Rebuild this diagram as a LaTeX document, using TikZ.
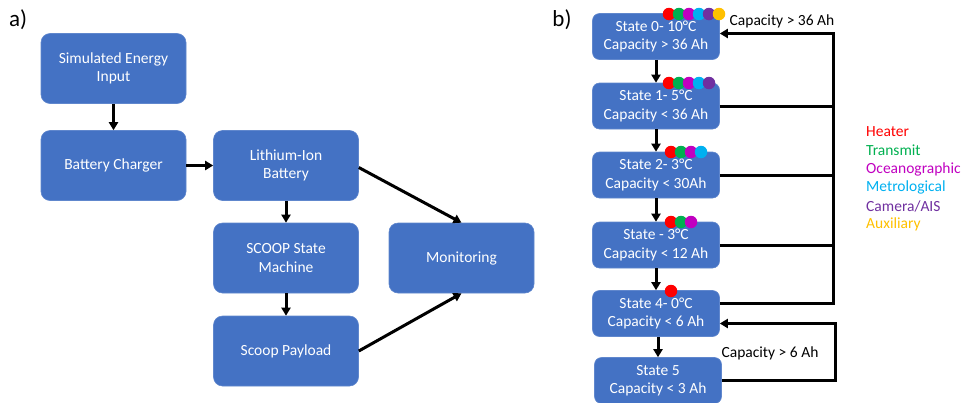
\documentclass[tikz,border=0pt]{standalone}
\usepackage{fontspec}
\setmainfont{Carlito}
\usetikzlibrary{arrows.meta}
\definecolor{boxblue}{HTML}{4472C4}
\definecolor{heater}{HTML}{FF0000}
\definecolor{transmit}{HTML}{00B050}
\definecolor{ocean}{HTML}{C000C0}
\definecolor{metro}{HTML}{00B0F0}
\definecolor{camera}{HTML}{7030A0}
\definecolor{aux}{HTML}{FFC000}
\begin{document}
\begin{tikzpicture}[x=1pt, y=-1pt,
	block/.style={rectangle, rounded corners=9pt, fill=boxblue, draw=boxblue!85!white, line width=0.6pt, text=white, align=center, font=\fontsize{15.5}{18.5}\selectfont, minimum width=145pt, minimum height=70pt, inner sep=0pt},
	statebox/.style={block, minimum width=127pt, minimum height=46pt, rounded corners=7pt},
	dot/.style={circle, inner sep=0pt, minimum size=12.5pt},
	link/.style={line width=3pt, -{Triangle[length=8pt,width=9pt]}},
	wire/.style={line width=3pt},
	plain/.style={font=\fontsize{15.5}{18.5}\selectfont},
	legend/.style={plain, anchor=west, inner sep=0pt}]
	\useasboundingbox (0,0) rectangle (963,402);
	% a) power chain
	\node[font=\fontsize{23}{27}\selectfont] (la) at (18,20) {a)};
	\node[block] (sim) at (113.5,68.5) {Simulated Energy\\Input};
	\node[block] (charger) at (113.5,165.5) {Battery Charger};
	\node[block] (liion) at (286,165.5) {Lithium-Ion\\Battery};
	\node[block] (scoop) at (286,258) {SCOOP State\\Machine};
	\node[block] (payload) at (286,351) {Scoop Payload};
	\node[block] (mon) at (461.5,258) {Monitoring};
	\draw[link] (sim) -- (charger);
	\draw[link] (charger) -- (liion);
	\draw[link] (liion) -- (scoop);
	\draw[link] (scoop) -- (payload);
	\draw[link] ([yshift=-2pt]liion.east) -- (mon.north);
	\draw[link] (payload.east) -- (mon.south);
	% b) state machine
	\node[font=\fontsize{23}{27}\selectfont] (lb) at (562,20) {b)};
	\node[statebox] (s0) at (656,36.5) {State 0- 10°C\\Capacity > 36 Ah};
	\node[statebox] (s1) at (656,106) {State 1- 5°C\\Capacity < 36 Ah};
	\node[statebox] (s2) at (656,175) {State 2- 3°C\\Capacity < 30Ah};
	\node[statebox] (s3) at (656,245) {State - 3°C\\Capacity < 12 Ah};
	\node[statebox] (s4) at (656,313.5) {State 4- 0°C\\Capacity < 6 Ah};
	\node[statebox] (s5) at (658,380.5) {State 5\\Capacity < 3 Ah};
	\draw[link] (s0) -- (s1);
	\draw[link] (s1) -- (s2);
	\draw[link] (s2) -- (s3);
	\draw[link] (s3) -- (s4);
	\draw[link] (s4.south -| s5.north) -- (s5);
	% loads per state
	\foreach \c [count=\i] in {heater,transmit,ocean,metro,camera,aux}
		\node[dot, fill=\c] (da\i) at (659+10*\i,14) {};
	\foreach \c [count=\i] in {heater,transmit,ocean,metro,camera}
		\node[dot, fill=\c] (db\i) at (659+10*\i,83) {};
	\foreach \c [count=\i] in {heater,transmit,ocean,metro}
		\node[dot, fill=\c] (dc\i) at (661+10*\i,152) {};
	\foreach \c [count=\i] in {heater,transmit,ocean}
		\node[dot, fill=\c] (dd\i) at (661+10*\i,222) {};
	\node[dot, fill=heater] (de1) at (671,291) {};
	% return paths
	\coordinate (ret) at (833,33.5);
	\draw[link] ([yshift=10pt]s4.east) -| (ret) -- ([yshift=3pt]s0.east);
	\draw[wire] (s1.east) -- (s1.east -| ret);
	\draw[wire] (s2.east) -- (s2.east -| ret);
	\draw[wire] (s3.east) -- (s3.east -| ret);
	\node[plain] (c36) at (782,21) {Capacity > 36 Ah};
	\coordinate (ret6) at (835,323.5);
	\draw[link] (s5.east) -| (ret6) -- ([yshift=-10pt]s4.east);
	\node[plain] (c6) at (770,353) {Capacity > 6 Ah};
	% legend
	\foreach \c/\t [count=\i] in {heater/Heater,transmit/Transmit,ocean/Oceanographic,metro/Metrological,camera/Camera\slash AIS,aux/Auxiliary}
		\node[legend, text=\c] (lg\i) at (866,113.5+18.5*\i) {\t};
\end{tikzpicture}
\end{document}
